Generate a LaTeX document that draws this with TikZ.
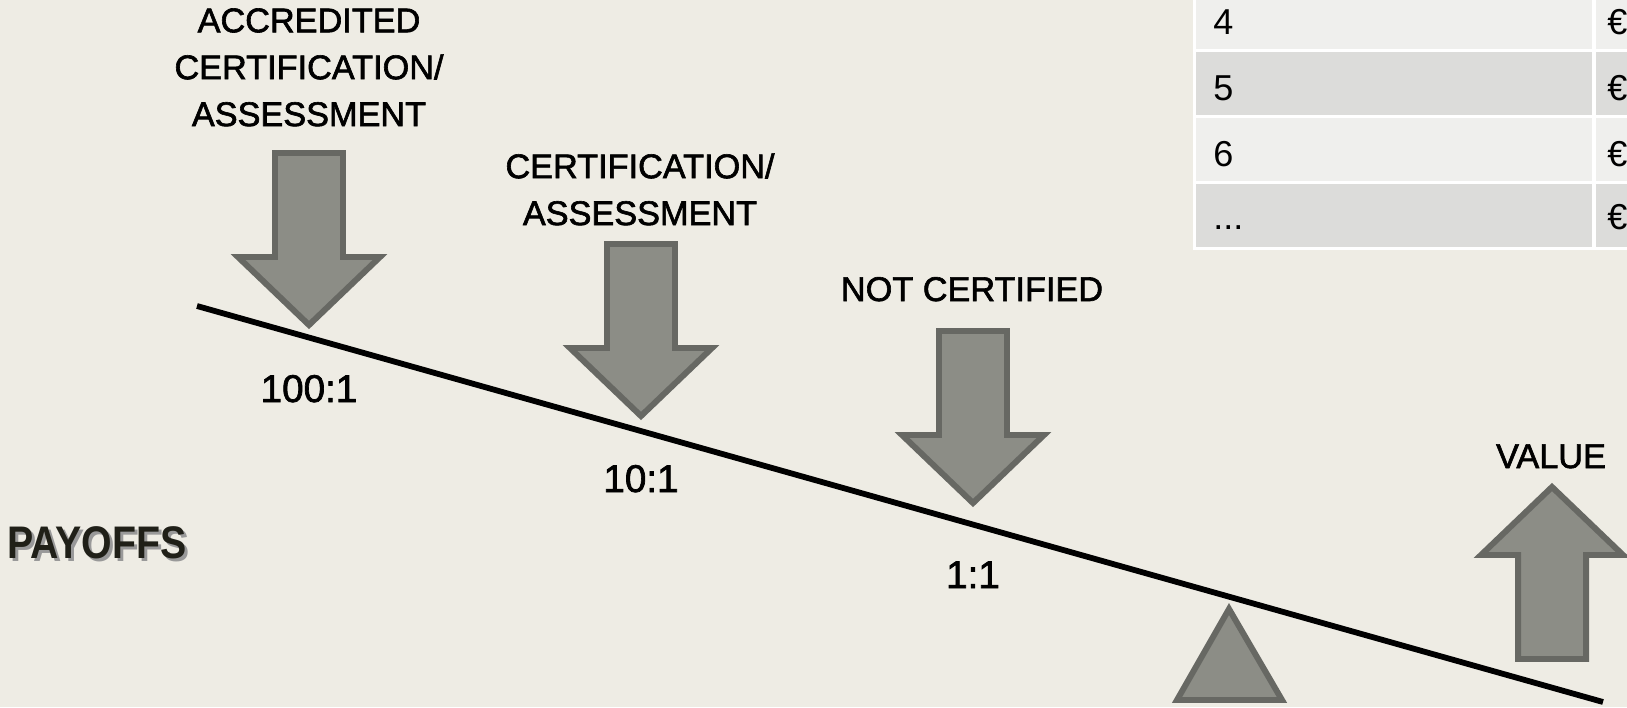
\documentclass[tikz,border=0pt]{standalone}
\usepackage{fontspec}
\setmainfont{Liberation Sans}
\newfontfamily\labelfont[FakeBold=1.8]{Liberation Sans}
\definecolor{bgbeige}{HTML}{EEECE4}
\definecolor{arrowfill}{HTML}{8C8D86}
\definecolor{arrowedge}{HTML}{676863}
\definecolor{rowlight}{HTML}{EFEFED}
\definecolor{rowdark}{HTML}{DCDCDA}
\definecolor{titleink}{HTML}{202018}
\begin{document}
\begin{tikzpicture}[x=0.02cm, y=-0.02cm,
  label/.style={font=\labelfont\fontsize{19.5}{26.7}\selectfont, inner sep=0pt, align=center},
  ratio/.style={font=\labelfont\fontsize{22}{26}\selectfont, inner sep=0pt, anchor=base},
  cell/.style={font=\fontsize{20.5}{24}\selectfont, inner sep=0pt, anchor=base west},
  blockarrow/.pic={
    \draw[fill=arrowfill, draw=arrowedge, line width=3.4pt, miter limit=10]
      (-34,-176) -- (34,-176) -- (34,-72) -- (71,-72) -- (0,-4)
      -- (-71,-72) -- (-34,-72) -- cycle;
  }]
  % Page and background.
  \useasboundingbox (0,0) rectangle (1627,707);
  \clip (0,0) rectangle (1627,707);
  \fill[bgbeige] (0,0) rectangle (1627,707);

  % Table (cut by the page edge).
  \fill[white] (1193,-5) rectangle (1632,250);
  \foreach \top/\bot/\shade in {-10/49/rowlight, 52/115/rowdark, 118/181/rowlight, 184/247/rowdark} {
    \fill[\shade] (1196,\top) rectangle (1592,\bot);
    \fill[\shade] (1596,\top) rectangle (1632,\bot);
  }
  \node[cell] (n4) at (1213,34) {4};
  \node[cell] (n5) at (1213,100) {5};
  \node[cell] (n6) at (1213,166) {6};
  \node[cell] (ndots) at (1213,229) {...};
  \foreach \yb/\nm in {34/e4, 100/e5, 166/e6, 229/edots}
    \node[cell] (\nm) at (1607,\yb) {€};

  % Lever.
  \draw[line width=3.3pt] (197,306) -- (1603,702);
  % Fulcrum.
  \draw[fill=arrowfill, draw=arrowedge, line width=3.4pt] (1177,700) -- (1282,700) -- (1229,609) -- cycle;

  % Weights pressing down.
  \pic at (309,329) {blockarrow};
  \pic at (641,420) {blockarrow};
  \pic at (973,507) {blockarrow};
  % Value pushing up.
  \pic[rotate=180] at (1552,483) {blockarrow};

  % Labels above the weights.
  \node[label, anchor=north] (accr) at (309,8) {ACCREDITED\\CERTIFICATION/\\ASSESSMENT};
  \node[label, anchor=north] (cert) at (640,153) {CERTIFICATION/\\ASSESSMENT};
  \node[label, anchor=base] (notcert) at (972,301) {NOT CERTIFIED};
  \node[label, anchor=base] (value) at (1551,468) {VALUE};

  % Ratios under the lever.
  \node[ratio] (r100) at (309,402) {100:1};
  \node[ratio] (r10) at (641,492) {10:1};
  \node[ratio] (r1) at (973,588) {1:1};

  % Title with shadow.
  \node[anchor=base west, inner sep=0pt, text=black!40, font=\bfseries\fontsize{26}{30}\selectfont] (payshadow) at (10,561) {\scalebox{0.86}[1]{PAYOFFS}};
  \node[anchor=base west, inner sep=0pt, text=titleink, font=\bfseries\fontsize{26}{30}\selectfont] (payoffs) at (7,558) {\scalebox{0.86}[1]{PAYOFFS}};
\end{tikzpicture}
\end{document}
